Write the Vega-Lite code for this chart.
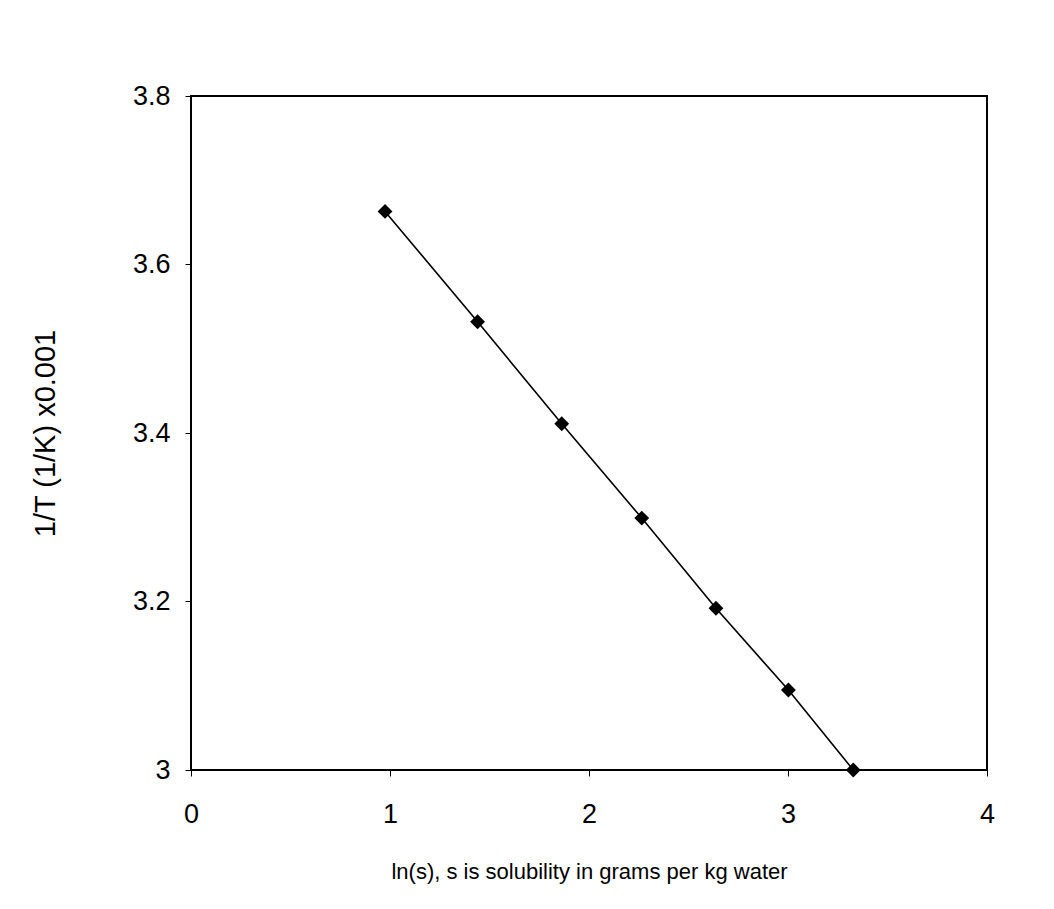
{
  "$schema": "https://vega.github.io/schema/vega-lite/v6.json",
  "width": 796,
  "height": 674,
  "autosize": {"type": "none"},
  "padding": {"left": 191, "top": 96, "right": 67, "bottom": 139},
  "background": "white",
  "config": {
    "font": "Liberation Sans",
    "view": {"stroke": "black", "strokeWidth": 2},
    "axis": {
      "grid": false,
      "domain": false,
      "tickColor": "black",
      "tickSize": 6,
      "labelColor": "black",
      "titleColor": "black",
      "labelFont": "Liberation Sans",
      "titleFont": "Liberation Sans",
      "labelFontSize": 27,
      "titleFontSize": 22,
      "titleFontWeight": "normal",
      "labelFlush": false
    }
  },
  "data": {
    "values": [
      {"lns": 0.975, "invT": 3.663},
      {"lns": 1.44, "invT": 3.532},
      {"lns": 1.863, "invT": 3.411},
      {"lns": 2.265, "invT": 3.299},
      {"lns": 2.638, "invT": 3.192},
      {"lns": 3.002, "invT": 3.095},
      {"lns": 3.328, "invT": 3.0}
    ]
  },
  "encoding": {
    "x": {
      "field": "lns",
      "type": "quantitative",
      "scale": {"domain": [0, 4], "nice": false, "zero": false},
      "axis": {"values": [0, 1, 2, 3, 4], "format": "d", "labelPadding": 25, "title": "ln(s), s is solubility in grams per kg water", "titlePadding": 34}
    },
    "y": {
      "field": "invT",
      "type": "quantitative",
      "scale": {"domain": [3, 3.8], "nice": false, "zero": false},
      "axis": {"values": [3, 3.2, 3.4, 3.6, 3.8], "labelExpr": "datum.value == 3 ? '3' : format(datum.value, '.1f')", "labelPadding": 15, "title": "1/T (1/K) x0.001", "titleFontSize": 29, "titlePadding": 72}
    }
  },
  "layer": [
    {"mark": {"type": "line", "color": "black", "strokeWidth": 1.6}},
    {"mark": {"type": "point", "shape": "diamond", "filled": true, "color": "black", "opacity": 1, "size": 220}}
  ]
}
